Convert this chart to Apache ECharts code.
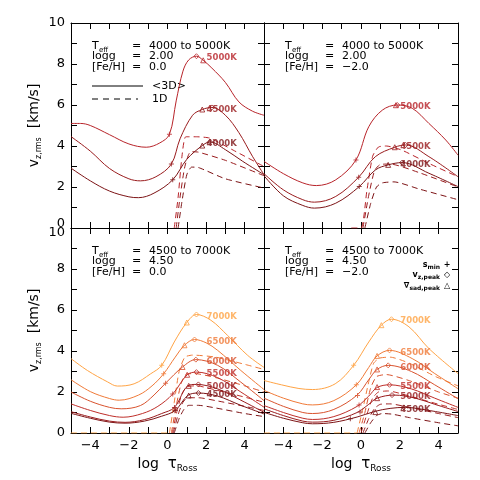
<!DOCTYPE html>
<html>
<head>
<meta charset="utf-8">
<script src="https://cdn.jsdelivr.net/npm/echarts@6/dist/echarts.min.js"></script>
<style>html,body{margin:0;padding:0;background:#fff}#chart{width:480px;height:480px}</style>
</head>
<body>
<div id="chart"></div>
<script>
// tick labels
var xTickLabels = [-4, -2, 0, 2, 4];
var yTickLabels = [0, 2, 4, 6, 8, 10];

// panel annotations (TL, TR, BL, BR)
var panelTeff = ['4000 to 5000K', '4000 to 5000K', '4500 to 7000K', '4500 to 7000K'];
var panelLogg = ['2.00', '2.00', '4.50', '4.50'];
var panelFeH = ['0.0', '\u22122.0', '0.0', '\u22122.0'];

var topTemps = [4000, 4500, 5000];
var botTemps = [4500, 5000, 5500, 6000, 6500, 7000];

// top-left: logg 2.0, [Fe/H] 0.0   -- <3D> solid
var tl3d4000 = [[-5,2.92],[-4,2.3],[-3,1.8],[-2,1.52],[-1.5,1.48],[-0.7,1.7],[0.27,2.35],[1,3.35],[1.8,4.02],[2.2,4.2],[3,3.82],[3.9,3.25],[5,2.6]];
var tl3d4500 = [[-5,4.46],[-4,3.75],[-3,2.9],[-2,2.4],[-1.4,2.3],[-0.6,2.5],[0.2,3.12],[0.65,4.35],[1.3,5.5],[1.8,5.78],[2.3,5.88],[3,5.5],[3.7,4.65],[4.4,3.5],[5,2.6]];
var tl3d5000 = [[-5,5.1],[-4.5,5.1],[-4,5.0],[-3,4.55],[-2,4.1],[-1.1,3.94],[-0.4,4.15],[0.1,4.57],[0.45,6.2],[0.8,7.65],[1.1,8.2],[1.5,8.38],[1.85,8.18],[2.3,7.8],[3,7.1],[3.7,6.15],[4.4,5.7],[5,5.5]];
// 1D dashed
var tl1d4000 = [[0.55,0],[0.75,1.3],[1.0,2.6],[1.25,2.97],[1.6,2.95],[3,2.4],[5,1.95]];
var tl1d4500 = [[0.45,0],[0.65,1.5],[0.9,3.0],[1.2,3.72],[1.6,3.7],[3,3.3],[5,2.55]];
var tl1d5000 = [[0.35,0],[0.55,1.5],[0.75,3.5],[0.95,4.45],[1.5,4.45],[2.2,4.38],[3.4,3.8],[5,3.0]];

// top-right: logg 2.0, [Fe/H] -2.0
var tr3d4000 = [[-5,2.55],[-4,1.57],[-3,1.1],[-2.4,0.97],[-1.3,1.21],[-0.09,2.02],[0.74,2.83],[1.4,3.08],[2.12,3.19],[3.5,2.67],[5,2.02]];
var tr3d4500 = [[-5,2.65],[-4,1.86],[-3,1.38],[-2.4,1.26],[-1.3,1.54],[-0.12,2.48],[0.74,3.48],[1.74,3.94],[2.3,4.05],[3.5,3.48],[5,2.5]];
var tr3d5000 = [[-5,3.25],[-4,2.65],[-3,2.2],[-2.3,2.07],[-1.3,2.35],[-0.26,3.32],[0.4,4.94],[1.1,5.75],[1.87,6.0],[2.64,5.84],[3.5,5.1],[4.37,4.29],[5,3.55]];
var tr1d4000 = [[0.2,0],[0.5,1.2],[0.8,2.0],[1.1,2.2],[1.7,2.25],[3,1.9],[5,1.38]];
var tr1d4500 = [[0.1,0],[0.4,1.6],[0.7,2.8],[1.0,3.1],[1.5,3.12],[3,2.7],[5,2.0]];
var tr1d5000 = [[-0.5,0],[0,0],[0.3,1.8],[0.6,3.5],[0.9,3.95],[1.3,4.0],[2.1,3.8],[3.5,3.15],[5,2.5]];

// bottom-left: logg 4.5, [Fe/H] 0.0
var bl3d4500 = [[-5,0.96],[-4,0.72],[-3,0.53],[-2.2,0.48],[-1.2,0.58],[-0.3,0.82],[0.4,1.1],[1.05,1.83],[1.6,1.95],[2.6,1.8],[3.8,1.35],[5,0.93]];
var bl3d5000 = [[-5,1.04],[-4,0.78],[-3,0.58],[-2.2,0.52],[-1.2,0.65],[-0.3,0.95],[0.36,1.25],[1.05,2.3],[1.5,2.37],[2.6,2.15],[3.8,1.6],[5,1.01]];
var bl3d5500 = [[-5,1.42],[-4,1.1],[-3,0.85],[-2.3,0.77],[-1.3,0.95],[-0.5,1.3],[0.27,1.9],[1.02,2.84],[1.5,2.97],[2.6,2.7],[3.8,2.0],[5,1.26]];
var bl3d6000 = [[-5,2.0],[-4,1.55],[-3,1.25],[-2.4,1.18],[-1.4,1.34],[-0.7,1.85],[-0.1,2.43],[0.78,3.22],[1.47,3.58],[2.6,3.3],[3.8,2.48],[5,1.58]];
var bl3d6500 = [[-5,2.6],[-4,2.02],[-3,1.68],[-2.5,1.6],[-1.5,1.85],[-0.8,2.3],[-0.2,2.89],[0.4,3.7],[0.88,4.28],[1.4,4.56],[2.0,4.4],[2.6,4.03],[3.8,3.05],[5,2.12]];
var bl3d7000 = [[-5,3.63],[-4.15,3.05],[-3.1,2.49],[-2.6,2.29],[-1.73,2.4],[-0.87,2.89],[-0.3,3.3],[0.35,4.44],[1.0,5.39],[1.5,5.78],[2.25,5.5],[3.1,4.77],[4.15,3.79],[5,3.2]];
var bl1d4500 = [[0.35,0],[0.6,0.7],[0.85,1.15],[1.1,1.35],[1.6,1.35],[2.5,1.22],[4,0.95],[5,0.8]];
var bl1d5000 = [[0.3,0],[0.55,0.9],[0.8,1.5],[1.05,1.72],[1.6,1.72],[2.5,1.58],[4,1.3],[5,1.1]];
var bl1d5500 = [[0.25,0],[0.5,1.1],[0.75,1.9],[1.0,2.25],[1.5,2.3],[2.5,2.1],[4,1.75],[5,1.5]];
var bl1d6000 = [[0.2,0],[0.45,1.3],[0.7,2.4],[0.95,2.85],[1.4,2.9],[2.5,2.7],[4,2.3],[5,2.0]];
var bl1d6500 = [[0.1,0],[0.35,1.5],[0.6,3.0],[0.9,3.7],[1.3,3.8],[2.5,3.7],[4,3.35],[5,3.1]];
var bl1d7000 = [[-5,0],[0.15,0]];

// bottom-right: logg 4.5, [Fe/H] -2.0
var br3d4500 = [[-5,1.01],[-4,0.72],[-3,0.5],[-2.5,0.45],[-1.4,0.52],[-0.2,0.78],[0.7,1.05],[1.5,1.2],[2.3,1.25],[3.5,1.1],[5,0.85]];
var br3d5000 = [[-5,1.18],[-4,0.85],[-3,0.58],[-2.5,0.53],[-1.4,0.62],[-0.2,1.0],[0.4,1.4],[0.83,1.7],[1.7,1.85],[2.8,1.7],[3.8,1.4],[5,1.05]];
var br3d5500 = [[-5,1.34],[-4,1.0],[-3,0.72],[-2.5,0.66],[-1.4,0.8],[-0.2,1.3],[0.4,1.8],[0.83,2.22],[1.47,2.35],[2.6,2.15],[3.8,1.7],[5,1.25]];
var br3d6000 = [[-5,1.7],[-4,1.3],[-3,1.0],[-2.5,0.95],[-1.4,1.15],[-0.2,1.85],[0.4,2.6],[0.83,3.1],[1.4,3.3],[2.6,3.0],[3.8,2.35],[5,1.67]];
var br3d6500 = [[-5,2.08],[-4,1.7],[-3,1.42],[-2.5,1.37],[-1.4,1.58],[-0.24,2.35],[0.4,3.2],[0.83,3.76],[1.47,4.03],[2.64,3.63],[3.8,2.9],[5,2.16]];
var br3d7000 = [[-5,2.56],[-4.1,2.35],[-3.2,2.17],[-2.5,2.12],[-1.33,2.4],[-0.38,3.3],[0.4,4.44],[1.05,5.26],[1.57,5.55],[2.47,5.18],[3.5,4.12],[5,2.9]];
var br1d4500 = [[0.2,0],[0.5,0.5],[0.8,0.85],[1.1,0.95],[1.6,0.92],[2.5,0.75],[4,0.5],[5,0.35]];
var br1d5000 = [[0.1,0],[0.4,0.7],[0.7,1.2],[1.0,1.4],[1.5,1.42],[2.5,1.25],[4,0.95],[5,0.75]];
var br1d5500 = [[0,0],[0.3,0.9],[0.6,1.7],[0.9,2.0],[1.4,2.05],[2.5,1.8],[4,1.4],[5,1.15]];
var br1d6000 = [[-0.1,0],[0.2,1.0],[0.5,2.2],[0.8,2.75],[1.3,2.85],[2.5,2.55],[4,2.0],[5,1.7]];
var br1d6500 = [[-0.2,0],[0.1,1.2],[0.4,2.5],[0.65,3.4],[0.95,3.65],[1.5,3.7],[2.5,3.4],[3.85,2.75],[5,2.3]];
var br1d7000 = [[-5,0],[-0.2,0]];

// markers: s_min (+), v_z,peak (diamond), grad_ad,peak (triangle); ordered by Teff
var tlSmin = [[0.27,2.35],[0.2,3.12],[0.1,4.57]];
var tlPeak = [[2.2,4.2],[2.3,5.88],[1.5,8.38]];
var tlGrad = [[1.8,4.02],[1.8,5.78],[1.85,8.18]];
var trSmin = [[-0.09,2.02],[-0.12,2.48],[-0.26,3.32]];
var trPeak = [[2.12,3.19],[2.3,4.05],[1.87,6.0]];
var trGrad = [[1.4,3.08],[1.74,3.94],[1.8,5.99]];
var blSmin = [[0.4,1.1],[0.36,1.25],[0.27,1.9],[-0.1,2.43],[-0.2,2.89],[-0.3,3.3]];
var blPeak = [[1.6,1.95],[1.6,2.37],[1.5,2.97],[1.47,3.58],[1.4,4.56],[1.5,5.78]];
var blGrad = [[1.1,1.83],[1.1,2.3],[1.02,2.84],[0.78,3.22],[0.88,4.28],[1.0,5.39]];
var brSmin = [[-0.55,0.7],[-0.05,1.02],[-0.1,1.37],[-0.18,1.83],[-0.24,2.35],[-0.38,3.3]];
var brPeak = [[2.2,1.25],[1.6,1.85],[1.47,2.35],[1.4,3.3],[1.47,4.03],[1.57,5.55]];
var brGrad = [[0.74,1.02],[0.83,1.7],[0.83,2.24],[0.83,3.1],[0.83,3.76],[1.05,5.26]];

var topColors = ['#7d1416', '#9a1c1e', '#b8242a'];
var botColors = ['#7d1416', '#9a1c1e', '#bf2f2a', '#d9532e', '#f07a38', '#ffa445'];

var panels = [
  {temps: topTemps, cols: topColors, s3d: [tl3d4000, tl3d4500, tl3d5000], s1d: [tl1d4000, tl1d4500, tl1d5000], smin: tlSmin, peak: tlPeak, grad: tlGrad},
  {temps: topTemps, cols: topColors, s3d: [tr3d4000, tr3d4500, tr3d5000], s1d: [tr1d4000, tr1d4500, tr1d5000], smin: trSmin, peak: trPeak, grad: trGrad},
  {temps: botTemps, cols: botColors, s3d: [bl3d4500, bl3d5000, bl3d5500, bl3d6000, bl3d6500, bl3d7000], s1d: [bl1d4500, bl1d5000, bl1d5500, bl1d6000, bl1d6500, bl1d7000], smin: blSmin, peak: blPeak, grad: blGrad},
  {temps: botTemps, cols: botColors, s3d: [br3d4500, br3d5000, br3d5500, br3d6000, br3d6500, br3d7000], s1d: [br1d4500, br1d5000, br1d5500, br1d6000, br1d6500, br1d7000], smin: brSmin, peak: brPeak, grad: brGrad}
];

var gridL = [71, 264, 71, 264];
var gridT = [23, 23, 228, 228];
var gridW = [193, 194, 193, 194];
var gridH = 205;
var FONT = 'DejaVu Sans';
var PLUS = 'path://M2,0H3V2H5V3H3V5H2V3H0V2H2Z';

var chart = echarts.init(document.getElementById('chart'));

var grids = [], xAxes = [], yAxes = [], series = [], graphics = [];

function fmtNum(v) { return v < 0 ? '\u2212' + Math.abs(v) : String(v); }

for (var g = 0; g < 4; g++) {
  var bottomRow = g >= 2, leftCol = g % 2 === 0;
  grids.push({left: gridL[g], top: gridT[g], width: gridW[g], height: gridH, outerBoundsMode: 'none', containLabel: false});

  ['bottom', 'top'].forEach(function (pos) {
    var withLab = pos === 'bottom' && bottomRow;
    xAxes.push({
      type: 'value', gridIndex: g, position: pos, min: -5, max: 5, interval: 1,
      axisLine: {show: true, onZero: false, lineStyle: {color: '#000', width: 1}},
      axisTick: {show: true, inside: true, length: 6, interval: 0, lineStyle: {color: '#000', width: 1}},
      splitLine: {show: false},
      axisLabel: {show: withLab, interval: 0, margin: 6, color: '#000', fontSize: 13, fontFamily: FONT,
        formatter: function (v) { return xTickLabels.indexOf(v) >= 0 ? fmtNum(v) : ''; }},
      name: withLab ? '{n|log  }{t|\u03c4}{s|Ross}' : '',
      nameLocation: 'middle', nameGap: 22, nameMoveOverlap: false,
      nameTextStyle: {color: '#000', fontFamily: FONT, rich: {
        n: {fontSize: 14, lineHeight: 18, fontFamily: FONT},
        t: {fontSize: 15, lineHeight: 18, fontFamily: FONT},
        s: {fontSize: 9, lineHeight: 9, verticalAlign: 'bottom', fontFamily: FONT}}}
    });
  });

  ['left', 'right'].forEach(function (pos) {
    var withLab = pos === 'left' && leftCol;
    var isTop = g < 2;
    yAxes.push({
      type: 'value', gridIndex: g, position: pos, min: 0, max: 10, interval: 1,
      axisLine: {show: true, onZero: false, lineStyle: {color: '#000', width: 1}},
      axisTick: {show: true, inside: true, length: 6, interval: 0, lineStyle: {color: '#000', width: 1}},
      splitLine: {show: false},
      axisLabel: {show: withLab, interval: 0, margin: 6, color: '#000', fontSize: 13, fontFamily: FONT,
        formatter: function (v) {
          if (yTickLabels.indexOf(v) < 0) return '';
          if (isTop && v === 0) return '{lo|0}';
          if (!isTop && v === 10) return '{hi|10}';
          return String(v);
        },
        rich: {lo: {fontSize: 13, fontFamily: FONT, padding: [0, 0, 9, 0]}, hi: {fontSize: 13, fontFamily: FONT, padding: [9, 0, 0, 0]}}},
      name: withLab ? '{v|v}{s|z,rms}{n|  [km/s]}' : '',
      nameLocation: 'middle', nameRotate: 90, nameGap: 28, nameMoveOverlap: false,
      nameTextStyle: {color: '#000', fontFamily: FONT, rich: {
        v: {fontSize: 14, lineHeight: 18, fontFamily: FONT},
        n: {fontSize: 14, lineHeight: 18, fontFamily: FONT},
        s: {fontSize: 8, lineHeight: 8, verticalAlign: 'bottom', fontFamily: FONT}}}
    });
  });

  var p = panels[g];
  var xi = g * 2, yi = g * 2;
  // 1D dashed
  p.s1d.forEach(function (d, i) {
    series.push({type: 'line', xAxisIndex: xi, yAxisIndex: yi, data: d, smooth: 0.2, symbol: 'none',
      silent: true, animation: false, z: 2,
      lineStyle: {color: p.cols[i], width: 1, type: [6, 4]}});
  });
  // <3D> solid
  p.s3d.forEach(function (d, i) {
    series.push({type: 'line', xAxisIndex: xi, yAxisIndex: yi, data: d, smooth: 0.35, symbol: 'none',
      silent: true, animation: false, z: 3,
      lineStyle: {color: p.cols[i], width: 1}});
  });
  // markers
  [[p.smin, PLUS, 5], [p.peak, 'diamond', 5], [p.grad, 'triangle', 5]].forEach(function (m) {
    series.push({type: 'scatter', xAxisIndex: xi, yAxisIndex: yi, symbol: m[1], symbolSize: m[2],
      silent: true, animation: false, z: 4,
      data: m[0].map(function (pt, i) {
        return {value: pt, itemStyle: m[1] === PLUS ? {color: p.cols[i]} :
          {color: 'rgba(0,0,0,0)', borderColor: p.cols[i], borderWidth: 1}};
      })});
  });
  // temperature labels next to the peaks
  series.push({type: 'scatter', xAxisIndex: xi, yAxisIndex: yi, symbolSize: 1, silent: true, animation: false, z: 5,
    itemStyle: {color: 'rgba(0,0,0,0)'},
    data: p.peak.map(function (pt, i) {
      return {value: [2.0, pt[1]], label: {show: true, position: 'right', distance: 0, offset: [0, 2],
        formatter: p.temps[i] + 'K', color: p.cols[i], fontSize: 8.5, fontWeight: 'bold', fontFamily: FONT}};
    })});

  // panel annotation
  var L = gridL[g], T = gridT[g];
  var rows = [T + 23, T + 33.5, T + 44];
  graphics.push({type: 'text', style: {x: L + 21, y: rows[0], text: 'T', font: '11px ' + FONT, fill: '#000', verticalAlign: 'middle'}});
  graphics.push({type: 'text', style: {x: L + 28, y: rows[0] + 4, text: 'eff', font: '7px ' + FONT, fill: '#000', verticalAlign: 'middle'}});
  graphics.push({type: 'text', style: {x: L + 21, y: rows[1], text: 'logg', font: '11px ' + FONT, fill: '#000', verticalAlign: 'middle'}});
  graphics.push({type: 'text', style: {x: L + 21, y: rows[2], text: '[Fe/H]', font: '11px ' + FONT, fill: '#000', verticalAlign: 'middle'}});
  [panelTeff[g], panelLogg[g], panelFeH[g]].forEach(function (txt, r) {
    graphics.push({type: 'text', style: {x: L + 61, y: rows[r], text: '=', font: '11px ' + FONT, fill: '#000', verticalAlign: 'middle'}});
    graphics.push({type: 'text', style: {x: L + 78, y: rows[r], text: txt, font: '11px ' + FONT, fill: '#000', verticalAlign: 'middle'}});
  });
}

// line-style key in the top-left panel
graphics.push({type: 'line', shape: {x1: 92, y1: 86, x2: 143, y2: 86}, style: {stroke: '#000', lineWidth: 1}});
graphics.push({type: 'text', style: {x: 152, y: 86, text: '<3D>', font: '11px ' + FONT, fill: '#000', verticalAlign: 'middle'}});
graphics.push({type: 'line', shape: {x1: 92, y1: 99, x2: 138, y2: 99}, style: {stroke: '#000', lineWidth: 1, lineDash: [6, 5]}});
graphics.push({type: 'text', style: {x: 152, y: 99, text: '1D', font: '11px ' + FONT, fill: '#000', verticalAlign: 'middle'}});

// marker key in the bottom-right panel
var keyRich = {m: {fontSize: 8, lineHeight: 10, fontFamily: FONT, fontWeight: 'bold'}, b: {fontSize: 6, lineHeight: 6, verticalAlign: 'bottom', fontFamily: FONT, fontWeight: 'bold'}};
[['{m|s}{b|min}', '+', 265], ['{m|v}{b|z,peak}', '\u25c7', 275], ['{m|\u2207}{b|sad,peak}', '\u25b3', 286]].forEach(function (k) {
  graphics.push({type: 'text', style: {x: 440, y: k[2], text: k[0], rich: keyRich, align: 'right', verticalAlign: 'middle', fill: '#000'}});
  graphics.push({type: 'text', style: {x: 447, y: k[2], text: k[1], font: 'bold 8px ' + FONT, fill: '#000', align: 'center', verticalAlign: 'middle'}});
});

chart.setOption({
  animation: false,
  backgroundColor: '#fff',
  textStyle: {fontFamily: FONT},
  grid: grids,
  xAxis: xAxes,
  yAxis: yAxes,
  series: series,
  graphic: graphics
});
</script>
</body>
</html>
